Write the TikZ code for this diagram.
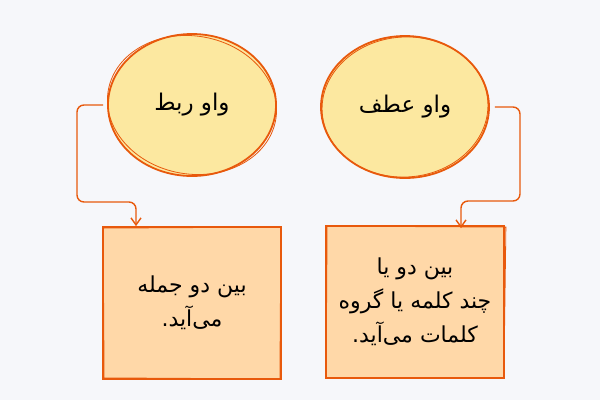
\documentclass[tikz,border=0pt]{standalone}
\usepackage{fontspec}
\usetikzlibrary{shapes.geometric,arrows.meta}
\TeXXeTstate=1
\newfontfamily\arabicfont[Script=Arabic]{DejaVu Sans}
\definecolor{bgc}{HTML}{F6F7FA}
\definecolor{strk}{HTML}{E8590C}
\definecolor{yel}{HTML}{FCE8A0}
\definecolor{peach}{HTML}{FFD8A8}
\tikzset{
  bubble/.style={ellipse, draw=strk, fill=yel, line width=1.8pt, inner sep=0pt,
    minimum width=168pt, minimum height=142pt, font=\arabicfont\fontsize{23}{26}\selectfont},
  card/.style={rectangle, draw=strk, fill=peach, line width=1.8pt, inner sep=0pt,
    minimum width=178pt, minimum height=152pt, align=center,
    font=\arabicfont\fontsize{22}{34}\selectfont},
  conn/.style={draw=strk, line width=1.4pt, rounded corners=7pt,
    -{Straight Barb[length=7pt,width=10pt,line width=1.4pt]}},
  sketch/.style={draw=strk, line width=0.8pt}
}
\begin{document}
\begin{tikzpicture}[x=1pt,y=-1pt]
\useasboundingbox[fill=bgc] (0,0) rectangle (600,400);
% circles
\node[bubble] (lc) at (192,105) {\beginR واو ربط\endR};
\node[bubble] (rc) at (405,107) {\beginR واو عطف\endR};
\draw[sketch] (lc.center) ellipse[x radius=85pt, y radius=69pt, rotate=-10];
\draw[sketch] (rc.center) ellipse[x radius=83pt, y radius=70pt, rotate=4];
% cards
\node[card] (lr) at (192,303) {\beginR بین دو جمله\endR\\\beginR می‌آید.\endR};
\node[card] (rr) at (415,302) {\beginR بین دو یا\endR\\\beginR چند کلمه یا گروه\endR\\\beginR کلمات می‌آید.\endR};
\draw[sketch] ([shift={(1pt,-2pt)}]lr.north west) -- ([shift={(-1pt,-1pt)}]lr.north east)
  -- ([shift={(-2pt,1pt)}]lr.south east) -- ([shift={(2pt,2pt)}]lr.south west) -- cycle;
\draw[sketch] ([shift={(2pt,-1pt)}]rr.north west) -- ([shift={(1pt,-2pt)}]rr.north east)
  -- ([shift={(-1pt,1pt)}]rr.south east) -- ([shift={(1pt,1pt)}]rr.south west) -- cycle;
% connectors
\coordinate (lb1) at (77,202);
\coordinate (lt) at ([xshift=-56pt]lr.north);
\draw[conn] ([xshift=-4pt]lc.west) -| (lb1) -| (lt);
\coordinate (rb1) at (520,201);
\coordinate (rt) at ([xshift=46pt,yshift=-3pt]rr.north);
\draw[conn] ([xshift=5pt]rc.east) -| (rb1) -| (rt);
\end{tikzpicture}
\end{document}
